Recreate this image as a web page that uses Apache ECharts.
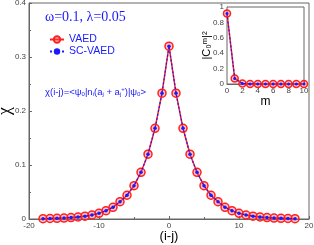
<!DOCTYPE html>
<html><head><meta charset="utf-8">
<script src="https://cdn.jsdelivr.net/npm/echarts@6/dist/echarts.min.js"></script>
<style>html,body{margin:0;padding:0;background:#fff}#c{width:314px;height:245px}</style>
</head><body><div id="c"></div>
<script>
// Main panel data
const sites = [-18,-17,-16,-15,-14,-13,-12,-11,-10,-9,-8,-7,-6,-5,-4,-3,-2,-1,0,1,2,3,4,5,6,7,8,9,10,11,12,13,14,15,16,17,18];
const vaed = [0.0006,0.0009,0.0013,0.0018,0.0026,0.0037,0.0052,0.0074,0.0105,0.0154,0.0217,0.032,0.044,0.0617,0.0865,0.120,0.168,0.233,0.320,0.233,0.168,0.120,0.0865,0.0617,0.044,0.032,0.0217,0.0154,0.0105,0.0074,0.0052,0.0037,0.0026,0.0018,0.0013,0.0009,0.0006];
const scvaed = vaed.slice();
// Inset data
const mVals = [0,1,2,3,4,5,6,7,8,9,10];
const c0Vaed = [0.915,0.072,0.006,0.001,0.0002,0,0,0,0,0,0];
const c0Sc = [0.915,0.072,0.006,0.001,0.0002,0,0,0,0,0,0];
const mainXTicks = [-20,-10,0,10,20];
const mainYTicks = [0,0.1,0.2,0.3,0.4];

const axisCol = '#666';
const labCol = '#444';
const red = '#ff2020', blue = '#1a1aff';

const chart = echarts.init(document.getElementById('c'));
function pairs(xs, ys){ return xs.map((x,i)=>[x, ys[i]]); }

chart.setOption({
  animation:false,
  grid:[
    {left:29, top:3, width:280, height:216, show:true, borderColor:axisCol, borderWidth:1, z:0, outerBoundsMode:'none', containLabel:false},
    {left:227, top:7, width:77, height:77, show:true, borderColor:axisCol, borderWidth:1, backgroundColor:'#fff', z:5, outerBoundsMode:'none', containLabel:false}
  ],
  title:{text:'ω=0.1, λ=0.05', left:40, top:5, textStyle:{fontFamily:'Liberation Serif', fontSize:14, fontWeight:'normal', color:blue}},
  legend:{
    orient:'vertical', left:44, top:29, itemGap:1, itemWidth:14, itemHeight:8,
    textStyle:{color:blue, fontSize:10.5, fontFamily:'Liberation Sans'},
    data:['VAED','SC-VAED']
  },
  xAxis:[
    {gridIndex:0, type:'value', min:-20, max:20, interval:10,
     name:'(i-j)', nameLocation:'middle', nameGap:11, nameMoveOverlap:false, nameTextStyle:{fontSize:13, color:'#000', fontFamily:'Liberation Sans'},
     axisLine:{onZero:false, lineStyle:{color:axisCol}}, axisTick:{inside:true, length:3, lineStyle:{color:axisCol}},
     minorTick:{show:true, splitNumber:2, length:2, lineStyle:{color:axisCol}},
     axisLabel:{fontSize:8, color:labCol, margin:3, formatter:v=>mainXTicks.includes(v)?String(v):''}, splitLine:{show:false}},
    {gridIndex:1, type:'value', min:0, max:10, interval:2,
     name:'m', nameLocation:'middle', nameGap:12, nameMoveOverlap:false, nameTextStyle:{fontSize:12, color:'#000', fontFamily:'Liberation Sans'},
     axisLine:{onZero:false, lineStyle:{color:axisCol}}, axisTick:{inside:true, length:3, lineStyle:{color:axisCol}},
     minorTick:{show:true, splitNumber:2, length:2, lineStyle:{color:axisCol}},
     axisLabel:{fontSize:8, color:labCol, margin:3}, splitLine:{show:false}}
  ],
  yAxis:[
    {gridIndex:0, type:'value', min:0, max:0.4, interval:0.1,
     name:'χ', nameLocation:'middle', nameGap:15, nameMoveOverlap:false, nameRotate:90, nameTextStyle:{fontSize:18, color:'#000', fontFamily:'Liberation Serif'},
     axisLine:{onZero:false, lineStyle:{color:axisCol}}, axisTick:{inside:true, length:3, lineStyle:{color:axisCol}},
     minorTick:{show:true, splitNumber:2, length:2, lineStyle:{color:axisCol}},
     axisLabel:{fontSize:8, color:labCol, margin:3, formatter:v=>String(Math.round(v*10)/10)}, splitLine:{show:false}},
    {gridIndex:1, type:'value', min:0, max:1, interval:0.2,
     name:'|C₀ᵐ|²', nameLocation:'middle', nameGap:15, nameMoveOverlap:false, nameRotate:90, nameTextStyle:{fontSize:11, color:'#000', fontFamily:'Liberation Sans'},
     axisLine:{onZero:false, lineStyle:{color:axisCol}}, axisTick:{inside:true, length:3, lineStyle:{color:axisCol}},
     minorTick:{show:true, splitNumber:2, length:2, lineStyle:{color:axisCol}},
     axisLabel:{fontSize:8, color:labCol, margin:3, formatter:v=>String(Math.round(v*10)/10)}, splitLine:{show:false}}
  ],
  graphic:[
    {type:'text', left:45, top:86, z:10, style:{
      text:'{a|χ(i-j)=<ψ}{s|0}{a||n}{s|i}{a|(a}{s|j}{a| + a}{s|j}{p|+}{a|)|ψ}{s|0}{a|>}',
      rich:{
        a:{fontSize:9.5, fill:blue, fontFamily:'Liberation Sans'},
        s:{fontSize:6, fill:blue, fontFamily:'Liberation Sans', padding:[5,0,0,0]},
        p:{fontSize:6, fill:blue, fontFamily:'Liberation Sans', padding:[0,0,6,0]}
      }}}
  ],
  series:[
    {name:'VAED', type:'line', xAxisIndex:0, yAxisIndex:0, data:pairs(sites,vaed),
     lineStyle:{color:red, width:1.5}, symbol:'circle', symbolSize:8,
     itemStyle:{color:'rgba(255,80,80,0.35)', borderColor:red, borderWidth:1.5}, z:2},
    {name:'SC-VAED', type:'line', xAxisIndex:0, yAxisIndex:0, data:pairs(sites,scvaed),
     lineStyle:{color:blue, width:1.2, type:[2,2]}, symbol:'circle', symbolSize:3.5,
     itemStyle:{color:blue}, z:3},
    {name:'VAED', type:'line', xAxisIndex:1, yAxisIndex:1, data:pairs(mVals,c0Vaed),
     lineStyle:{color:red, width:1.5}, symbol:'circle', symbolSize:7,
     itemStyle:{color:'rgba(255,80,80,0.35)', borderColor:red, borderWidth:1.5}, z:6},
    {name:'SC-VAED', type:'line', xAxisIndex:1, yAxisIndex:1, data:pairs(mVals,c0Sc),
     lineStyle:{color:blue, width:1.2, type:[2,2]}, symbol:'circle', symbolSize:3,
     itemStyle:{color:blue}, z:7}
  ]
});
</script></body></html>
